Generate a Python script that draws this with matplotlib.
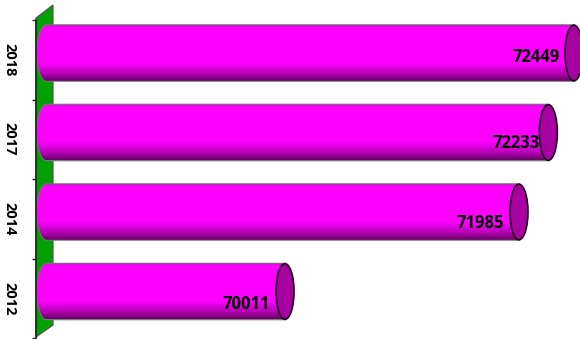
import numpy as np
import matplotlib
matplotlib.use('Agg')
import matplotlib.pyplot as plt
from matplotlib.colors import LinearSegmentedColormap
from matplotlib.patches import Ellipse, PathPatch, Polygon
from matplotlib.path import Path

years = ['2012', '2014', '2017', '2018']
values = [70011, 71985, 72233, 72449]

W, H = 580, 339
plt.rcParams['font.family'] = ['Open Sans', 'DejaVu Sans']

fig = plt.figure(figsize=(W / 100, H / 100), dpi=100)
# axes box in pixels: left wall line at x=36, ticks from y=20 to y=338
ax = fig.add_axes([36 / W, 1 - 338 / H, (W - 36) / W, 318 / H])
ax.patch.set_visible(False)

x0, x1 = 67910, 72500
bar_base = 68000
bar_half = 0.35
bar_shift = 0.085   # bars sit a little up and in from the wall
cap_w = 76          # half width of end ellipse, in data units
# the labels do not sit at one fixed offset from the bar end (points)
label_dx = [-10.5, -11, -6, -10]
label_dy = [-4, -3, -3, 2]

# green wall, below the axes
def px(x, y):
    return (x, H - y)

wall = Polygon([px(36, 18), px(53, 5), px(53, 325), px(36, 337)], closed=True,
               facecolor='#00a000', edgecolor='#555555', linewidth=0.9,
               transform=None, zorder=-1, clip_on=False)
fig.add_artist(wall)

shade = LinearSegmentedColormap.from_list('shade', [
    (0.0, '#c020c0'), (0.04, '#ff00ff'), (0.68, '#ff00ff'),
    (0.88, '#b000b0'), (1.0, '#6a006a')])
grad = np.linspace(0, 1, 100).reshape(-1, 1)

k = 0.5522  # bezier circle constant
bulge = cap_w * 1.05
for i, v in enumerate(values):
    yc = i + bar_shift
    top, bot = yc + bar_half, yc - bar_half
    verts = [(bar_base, top),
             (bar_base - bulge * k, top), (bar_base - bulge, yc + bar_half * k), (bar_base - bulge, yc),
             (bar_base - bulge, yc - bar_half * k), (bar_base - bulge * k, bot), (bar_base, bot),
             (v, bot), (v, top), (bar_base, top)]
    codes = [Path.MOVETO, Path.CURVE4, Path.CURVE4, Path.CURVE4,
             Path.CURVE4, Path.CURVE4, Path.CURVE4,
             Path.LINETO, Path.LINETO, Path.CLOSEPOLY]
    outline = PathPatch(Path(verts, codes), facecolor='none', edgecolor='#777777',
                        linewidth=1.4, zorder=2)
    ax.add_patch(outline)
    im = ax.imshow(grad, extent=(bar_base - bulge - 10, v, bot, top), origin='upper',
                   cmap=shade, aspect='auto', zorder=3)
    im.set_clip_path(PathPatch(Path(verts, codes), transform=ax.transData))
    ax.add_patch(Ellipse((v, yc), cap_w * 2, bar_half * 2, facecolor='#a800a0',
                         edgecolor='#1a001a', linewidth=1.2, zorder=4, clip_on=False))
    ax.annotate(str(v), (v, i), xytext=(label_dx[i], label_dy[i]), textcoords='offset points',
                ha='right', va='center', fontsize=12, fontweight='bold',
                color='black', zorder=5)

ax.set_xlim(x0, x1)
ax.set_ylim(-0.5, 3.5)

for s in ['top', 'right', 'bottom']:
    ax.spines[s].set_visible(False)
ax.spines['left'].set_linewidth(1.2)
ax.spines['left'].set_color('#222222')
ax.set_xticks([])
ax.set_yticks(np.arange(-0.5, 4, 1))
ax.set_yticklabels([])
ax.tick_params(axis='y', length=3, width=1, color='#222222')
ax.set_yticks(range(len(years)), minor=True)
ax.set_yticklabels(years, minor=True, rotation=-90, va='center', ha='center',
                   fontsize=10.5, fontweight='bold')
ax.tick_params(axis='y', which='minor', length=0, pad=19)

fig.savefig('out.png', dpi=100)
